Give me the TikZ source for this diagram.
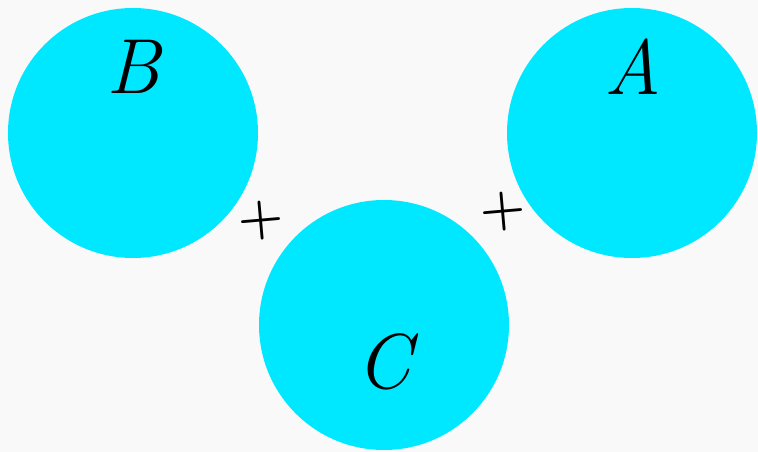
\documentclass[tikz,border=0pt]{standalone}
\definecolor{bgc}{HTML}{F9F9F9}
\definecolor{cy}{HTML}{00E8FF}
\tikzset{
  ball/.style={circle,fill=cy,draw=none,minimum size=250pt,inner sep=0pt},
  lbl/.style={font=\fontsize{78}{86}\selectfont\itshape,text=black,inner sep=0pt},
  plus/.style={font=\fontsize{52}{60}\selectfont\bfseries,text=black,inner sep=0pt,rotate=5}
}
\begin{document}
\begin{tikzpicture}[x=1pt,y=-1pt]
\fill[bgc] (0,0) rectangle (758,452);
\useasboundingbox (0,0) rectangle (758,452);
\node[ball] (cb) at (133,133) {};
\node[ball] (ca) at (632,133) {};
\node[ball] (cc) at (384,325) {};
\node[lbl] (lb) at (133,67) {B};
\node[lbl] (la) at (633,67) {A};
\node[lbl] (lc) at (384,362) {C};
\node[plus] (p1) at (261,221) {+};
\node[plus] (p2) at (503,212) {+};
\end{tikzpicture}
\end{document}
